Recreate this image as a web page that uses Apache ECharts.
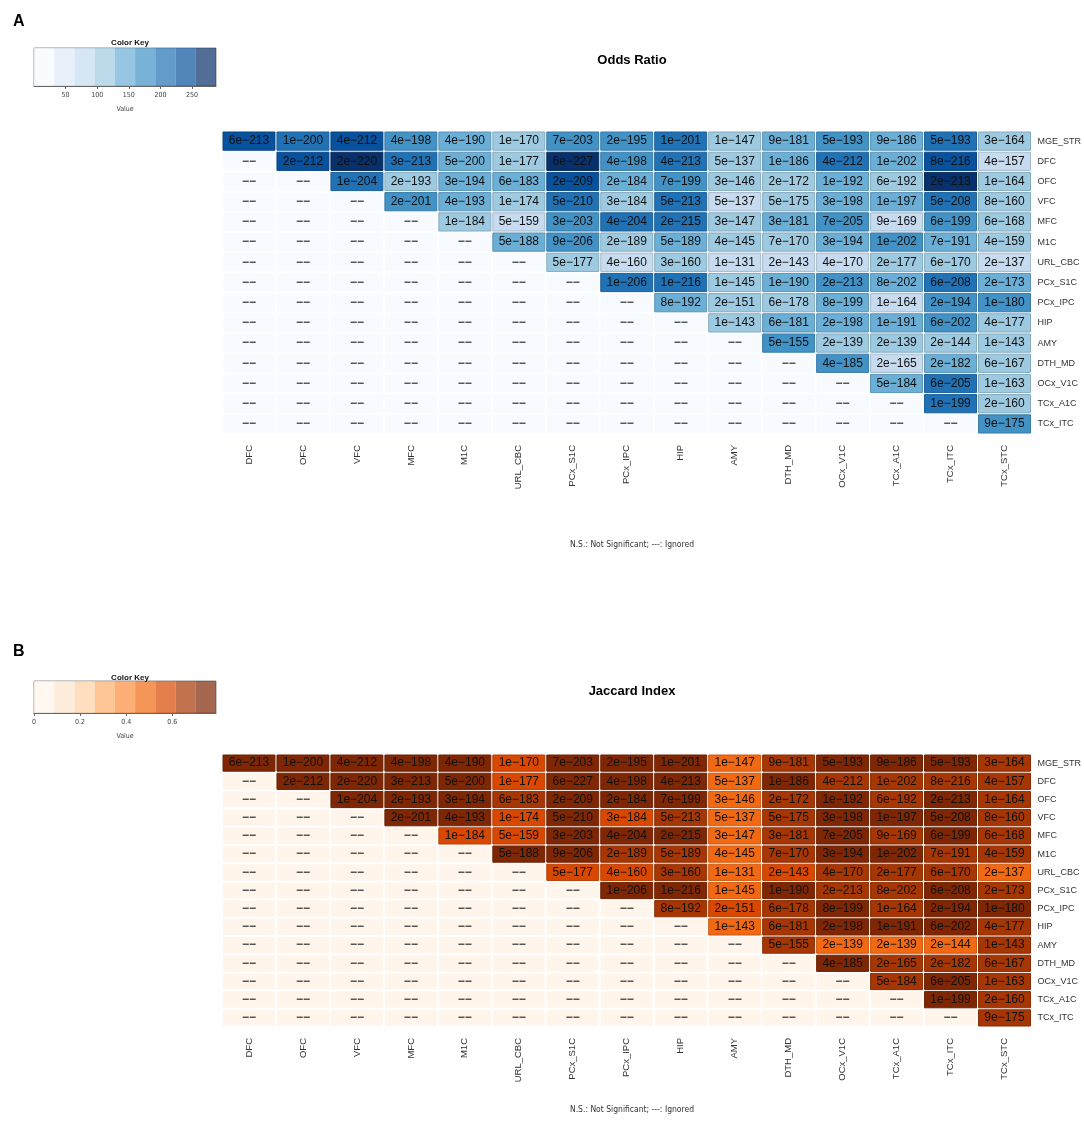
<!DOCTYPE html>
<html>
<head>
<meta charset="utf-8">
<script src="https://cdn.jsdelivr.net/npm/echarts@6/dist/echarts.min.js"></script>
<style>
html, body { margin: 0; background: #fff; }
#main { width: 1084px; height: 1128px; }
</style>
</head>
<body>
<div id="main"></div>
<script>
// rows (top to bottom) and columns (left to right) of the triangle
var rowNames = ['MGE_STR', 'DFC', 'OFC', 'VFC', 'MFC', 'M1C', 'URL_CBC', 'PCx_S1C', 'PCx_IPC',
                'HIP', 'AMY', 'DTH_MD', 'OCx_V1C', 'TCx_A1C', 'TCx_ITC'];
var colNames = ['DFC', 'OFC', 'VFC', 'MFC', 'M1C', 'URL_CBC', 'PCx_S1C', 'PCx_IPC', 'HIP',
                'AMY', 'DTH_MD', 'OCx_V1C', 'TCx_A1C', 'TCx_ITC', 'TCx_STC'];

// p-values written in the cells, row r starts at column r
var pLabels = [
  ['6e-213','1e-200','4e-212','4e-198','4e-190','1e-170','7e-203','2e-195','1e-201','1e-147','9e-181','5e-193','9e-186','5e-193','3e-164'],
  ['2e-212','2e-220','3e-213','5e-200','1e-177','6e-227','4e-198','4e-213','5e-137','1e-186','4e-212','1e-202','8e-216','4e-157'],
  ['1e-204','2e-193','3e-194','6e-183','2e-209','2e-184','7e-199','3e-146','2e-172','1e-192','6e-192','2e-213','1e-164'],
  ['2e-201','4e-193','1e-174','5e-210','3e-184','5e-213','5e-137','5e-175','3e-198','1e-197','5e-208','8e-160'],
  ['1e-184','5e-159','3e-203','4e-204','2e-215','3e-147','3e-181','7e-205','9e-169','6e-199','6e-168'],
  ['5e-188','9e-206','2e-189','5e-189','4e-145','7e-170','3e-194','1e-202','7e-191','4e-159'],
  ['5e-177','4e-160','3e-160','1e-131','2e-143','4e-170','2e-177','6e-170','2e-137'],
  ['1e-206','1e-216','1e-145','1e-190','2e-213','8e-202','6e-208','2e-173'],
  ['8e-192','2e-151','6e-178','8e-199','1e-164','2e-194','1e-180'],
  ['1e-143','6e-181','2e-198','1e-191','6e-202','4e-177'],
  ['5e-155','2e-139','2e-139','2e-144','1e-143'],
  ['4e-185','2e-165','2e-182','6e-167'],
  ['5e-184','6e-205','1e-163'],
  ['1e-199','2e-160'],
  ['9e-175']
];

// odds ratio per cell
var oddsRatio = [
  [240, 208, 244, 176, 148, 112, 182, 174, 210, 108, 142, 178, 146, 205, 118],
  [238, 278, 212, 150, 110, 282, 176, 214, 106, 146, 216, 140, 246, 84],
  [206, 118, 144, 138, 242, 148, 172, 112, 106, 152, 120, 276, 110],
  [180, 140, 108, 210, 114, 214, 78, 110, 146, 144, 206, 104],
  [114, 82, 176, 208, 212, 108, 138, 180, 86, 172, 112],
  [142, 178, 120, 138, 110, 106, 144, 184, 140, 108],
  [112, 84, 104, 74, 80, 86, 108, 106, 82],
  [210, 204, 110, 146, 182, 140, 206, 150],
  [144, 120, 106, 148, 78, 176, 180],
  [108, 142, 148, 136, 170, 116],
  [174, 114, 108, 104, 110],
  [178, 82, 150, 112],
  [138, 208, 106],
  [212, 104],
  [174]
];

// jaccard index per cell
var jaccardIndex = [
  [0.75, 0.73, 0.75, 0.73, 0.72, 0.57, 0.74, 0.73, 0.74, 0.48, 0.66, 0.73, 0.72, 0.73, 0.65],
  [0.75, 0.77, 0.75, 0.73, 0.58, 0.78, 0.73, 0.74, 0.47, 0.72, 0.68, 0.67, 0.69, 0.64],
  [0.74, 0.72, 0.72, 0.69, 0.75, 0.73, 0.73, 0.49, 0.66, 0.73, 0.68, 0.74, 0.65],
  [0.74, 0.72, 0.57, 0.75, 0.56, 0.69, 0.47, 0.65, 0.73, 0.73, 0.74, 0.64],
  [0.57, 0.56, 0.74, 0.74, 0.76, 0.48, 0.66, 0.75, 0.65, 0.73, 0.65],
  [0.73, 0.75, 0.69, 0.68, 0.48, 0.65, 0.73, 0.74, 0.69, 0.64],
  [0.57, 0.56, 0.66, 0.45, 0.58, 0.66, 0.67, 0.66, 0.47],
  [0.74, 0.75, 0.48, 0.73, 0.69, 0.68, 0.74, 0.66],
  [0.67, 0.57, 0.66, 0.73, 0.65, 0.73, 0.72],
  [0.47, 0.66, 0.73, 0.72, 0.74, 0.66],
  [0.65, 0.48, 0.48, 0.50, 0.65],
  [0.72, 0.65, 0.68, 0.65],
  [0.67, 0.74, 0.65],
  [0.73, 0.65],
  [0.66]
];

// colour keys
var oddsTicks = [50, 100, 150, 200, 250];
var jaccardTicks = [0, 0.2, 0.4, 0.6];
var oddsKeyMax = 288;
var jaccardKeyMax = 0.79;
var blues = ['#f7fbff', '#deebf7', '#c6dbef', '#9ecae1', '#6baed6', '#4292c6', '#2171b5', '#08519c', '#08306b'];
var oranges = ['#fff5eb', '#fee6ce', '#fdd0a2', '#fdae6b', '#fd8d3c', '#f16913', '#d94801', '#a63603', '#7f2704'];

var FONT = '"Liberation Sans", Arial, sans-serif';
var NARROW = '"Liberation Sans Narrow", "DejaVu Sans Condensed", "Liberation Sans", sans-serif';
var NOTE = 'N.S.: Not Significant; ---: Ignored';

function buildCells(values) {
  var scored = [], ignored = [];
  for (var r = 0; r < rowNames.length; r++) {
    for (var c = 0; c < colNames.length; c++) {
      if (c >= r) {
        scored.push({ value: [c, r, values[r][c - r]], txt: pLabels[r][c - r] });
      } else {
        ignored.push({ value: [c, r, 0], txt: '---' });
      }
    }
  }
  return { scored: scored, ignored: ignored };
}

function buildPieces(pal, max) {
  var w = max / pal.length;
  return pal.map(function (col, i) {
    var p = { gte: i * w, color: col };
    if (i < pal.length - 1) p.lt = (i + 1) * w; else p.lte = max * 2;
    return p;
  });
}

function keyData(pal, max) {
  var w = max / pal.length;
  return pal.map(function (col, i) { return [i * w, (i + 1) * w, i]; });
}

function darken(col, f) {
  var a = echarts.color.parse(col);
  return 'rgb(' + Math.round(a[0] * f) + ',' + Math.round(a[1] * f) + ',' + Math.round(a[2] * f) + ')';
}

function cellText(txt) {
  if (txt === '---') return '\u2212\u2212';
  return txt.replace('-', '\u2212');
}

// one rect per cell, coloured by the visualMap, with a thin darker rim
function cellSeries(idx, list, fixedColor, name) {
  return {
    name: name,
    type: 'custom',
    xAxisIndex: idx, yAxisIndex: idx,
    data: list,
    encode: { x: 0, y: 1 },
    silent: true,
    renderItem: function (params, api) {
      var ctr = api.coord([api.value(0), api.value(1)]);
      var sz = api.size([1, 1]);
      var col = fixedColor || api.visual('color');
      var txt = list[params.dataIndex].txt;
      return {
        type: 'rect',
        shape: { x: ctr[0] - sz[0] / 2 + 1, y: ctr[1] - sz[1] / 2 + 1, width: sz[0] - 2, height: sz[1] - 2 },
        style: fixedColor ? { fill: col } : { fill: col, stroke: darken(col, 0.84), lineWidth: 1 },
        textContent: {
          style: {
            text: cellText(txt),
            fontSize: 12,
            fontWeight: fixedColor ? 'bold' : 'normal',
            fill: fixedColor ? '#444' : '#111',
            fontFamily: FONT
          }
        },
        textConfig: { position: 'inside' }
      };
    }
  };
}

function keySeries(idx, pal, max) {
  return {
    type: 'custom',
    xAxisIndex: idx, yAxisIndex: idx,
    data: keyData(pal, max),
    encode: { x: [0, 1] },
    silent: true,
    renderItem: function (params, api) {
      var p0 = api.coord([api.value(0), 1]);
      var p1 = api.coord([api.value(1), 0]);
      return {
        type: 'rect',
        shape: { x: p0[0], y: p0[1], width: p1[0] - p0[0], height: p1[1] - p0[1] },
        style: { fill: pal[api.value(2)], opacity: 0.7 }
      };
    }
  };
}

function heatX(idx) {
  return {
    type: 'category', gridIndex: idx, data: colNames, position: 'bottom',
    axisLine: { show: false }, axisTick: { show: false }, splitLine: { show: false },
    axisLabel: { rotate: 90, margin: 11, fontSize: 9.5, color: '#333', fontFamily: FONT, interval: 0 }
  };
}

function heatY(idx) {
  return {
    type: 'category', gridIndex: idx, data: rowNames, inverse: true, position: 'right',
    axisLine: { show: false }, axisTick: { show: false }, splitLine: { show: false },
    axisLabel: { margin: 6, fontSize: 9, color: '#333', fontFamily: FONT, interval: 0 }
  };
}

function keyX(idx, max, ticks) {
  return {
    type: 'value', gridIndex: idx, min: 0, max: max,
    axisLine: { show: true, onZero: false, lineStyle: { color: '#666', width: 1 } },
    axisTick: { show: true, customValues: ticks, length: 3, lineStyle: { color: '#666' } },
    axisLabel: {
      customValues: ticks, fontSize: 7, color: '#444', margin: 6, fontFamily: NARROW,
      formatter: function (v) { return ticks.indexOf(v) >= 0 ? String(v) : ''; }
    },
    splitLine: { show: false },
    name: 'Value', nameLocation: 'middle', nameGap: 20,
    nameTextStyle: { fontSize: 7, color: '#444', fontFamily: NARROW }
  };
}

function keyY(idx) {
  return { type: 'value', gridIndex: idx, min: 0, max: 1, show: false };
}

var oddsCells = buildCells(oddsRatio);
var jacCells = buildCells(jaccardIndex);

var myChart = echarts.init(document.getElementById('main'));

var option = {
  animation: false,
  backgroundColor: '#fff',
  title: [
    { text: 'A', left: 8, top: 9, textStyle: { fontSize: 16, fontWeight: 'bold', color: '#000', fontFamily: FONT } },
    { text: 'Color Key', left: 125, top: 34, textAlign: 'center', textStyle: { fontSize: 8, fontWeight: 'bold', color: '#111', fontFamily: FONT } },
    { text: 'Odds Ratio', left: 627, top: 49, textAlign: 'center', textStyle: { fontSize: 13, fontWeight: 'bold', color: '#000', fontFamily: FONT } },
    { text: NOTE, left: 627, top: 535, textAlign: 'center', textStyle: { fontSize: 8.5, fontWeight: 'normal', color: '#333', fontFamily: NARROW } },
    { text: 'B', left: 8, top: 639, textStyle: { fontSize: 16, fontWeight: 'bold', color: '#000', fontFamily: FONT } },
    { text: 'Color Key', left: 125, top: 669, textAlign: 'center', textStyle: { fontSize: 8, fontWeight: 'bold', color: '#111', fontFamily: FONT } },
    { text: 'Jaccard Index', left: 627, top: 680, textAlign: 'center', textStyle: { fontSize: 13, fontWeight: 'bold', color: '#000', fontFamily: FONT } },
    { text: NOTE, left: 627, top: 1100, textAlign: 'center', textStyle: { fontSize: 8.5, fontWeight: 'normal', color: '#333', fontFamily: NARROW } }
  ],
  grid: [
    { left: 222, top: 131, width: 810, height: 303 },
    { left: 34, top: 48, width: 182, height: 38, show: true, borderColor: '#777', borderWidth: 0.8, backgroundColor: 'transparent' },
    { left: 222, top: 754, width: 810, height: 273 },
    { left: 34, top: 681, width: 182, height: 32, show: true, borderColor: '#777', borderWidth: 0.8, backgroundColor: 'transparent' }
  ],
  xAxis: [heatX(0), keyX(1, oddsKeyMax, oddsTicks), heatX(2), keyX(3, jaccardKeyMax, jaccardTicks)],
  yAxis: [heatY(0), keyY(1), heatY(2), keyY(3)],
  visualMap: [
    { type: 'piecewise', show: false, seriesIndex: 0, dimension: 2, pieces: buildPieces(blues, oddsKeyMax) },
    { type: 'piecewise', show: false, seriesIndex: 3, dimension: 2, pieces: buildPieces(oranges, jaccardKeyMax) }
  ],
  series: [
    cellSeries(0, oddsCells.scored, null, 'Odds Ratio'),
    cellSeries(0, oddsCells.ignored, blues[0], 'Odds Ratio ignored'),
    keySeries(1, blues, oddsKeyMax),
    cellSeries(2, jacCells.scored, null, 'Jaccard Index'),
    cellSeries(2, jacCells.ignored, oranges[0], 'Jaccard Index ignored'),
    keySeries(3, oranges, jaccardKeyMax)
  ]
};

myChart.setOption(option);
</script>
</body>
</html>
